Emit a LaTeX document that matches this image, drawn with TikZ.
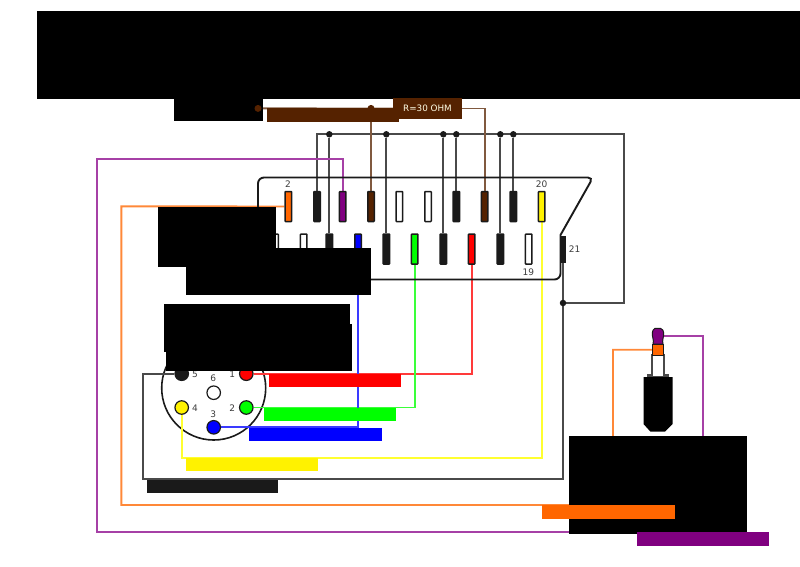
\documentclass[tikz,border=0pt]{standalone}
\usepackage{fontspec}
\setmainfont{DejaVu Sans}
\usetikzlibrary{backgrounds}
\definecolor{cbrown}{HTML}{552200}
\definecolor{corange}{HTML}{FF6600}
\definecolor{cpurple}{HTML}{800080}
\definecolor{cdark}{HTML}{1A1A1A}
\definecolor{cgreen}{HTML}{00FF00}
\definecolor{wbrown}{HTML}{80593F}
\definecolor{worange}{HTML}{FF8838}
\definecolor{wpurple}{HTML}{A640A6}
\definecolor{wdark}{HTML}{4A4A4A}
\definecolor{wred}{HTML}{FF3A3A}
\definecolor{wgreen}{HTML}{3AFF3A}
\definecolor{wblue}{HTML}{3A3AFF}
\definecolor{wyellow}{HTML}{FFFF30}
\tikzset{
  pinbox/.style={draw=cdark,line width=1.5pt,rounded corners=0.6pt,minimum width=6.5pt,minimum height=30pt,inner sep=0pt,fill=#1},
  pinbox/.default=white,
  dinpin/.style={circle,draw=cdark,line width=1.2pt,minimum size=13.5pt,inner sep=0pt,fill=#1},
  dinpin/.default=white,
  junction/.style={circle,fill=cdark,minimum size=6.5pt,inner sep=0pt},
  wire/.style={line width=1.9pt,#1},
  numlabel/.style={font=\fontsize{9}{10}\selectfont,text=cdark!85,inner sep=0pt},
  redact/.style={fill=black},
  resdot/.style={circle,fill=cbrown,minimum size=7pt,inner sep=0pt},
}
\begin{document}
\begin{tikzpicture}[x=1pt,y=-1pt]
\useasboundingbox (0,0) rectangle (800,566);
% SCART outline
\draw[cdark,line width=1.9pt] (400,177.5) [rounded corners=5pt] -- (593,177.5) [sharp corners] -- (560.5,235) [rounded corners=6pt] -- (560.5,279.5) -- (258,279.5) -- (258,177.5) -- cycle;
% top row pins
\node[pinbox=corange] (t2) at (288.3,206.5) {};
\node[pinbox=cdark] (t4) at (317,206.5) {};
\node[pinbox=cpurple] (t6) at (342.7,206.5) {};
\node[pinbox=cbrown] (t8) at (371,206.5) {};
\node[pinbox] (t10) at (399.3,206.5) {};
\node[pinbox] (t12) at (428,206.5) {};
\node[pinbox=cdark] (t14) at (456.3,206.5) {};
\node[pinbox=cbrown] (t16) at (484.7,206.5) {};
\node[pinbox=cdark] (t18) at (513.3,206.5) {};
\node[pinbox=yellow] (t20) at (541.7,206.5) {};
% bottom row pins
\node[pinbox] (b3) at (275,249) {};
\node[pinbox] (b5) at (303.7,249) {};
\node[pinbox=cdark] (b7) at (329.3,249) {};
\node[pinbox=blue] (b9) at (358,249) {};
\node[pinbox=cdark] (b11) at (386.3,249) {};
\node[pinbox=cgreen] (b13) at (414.7,249) {};
\node[pinbox=cdark] (b15) at (443.3,249) {};
\node[pinbox=red] (b17) at (471.7,249) {};
\node[pinbox=cdark] (b19) at (500.3,249) {};
\node[pinbox] (b21) at (528.7,249) {};
\node[draw=cdark,fill=cdark,line width=.8pt,minimum width=5pt,minimum height=26pt,inner sep=0pt] (p21) at (563,249.2) {};
% pin numbers
\node[numlabel] (n2) at (288,184.5) {2};
\node[numlabel] (n20) at (541.7,184.5) {20};
\node[numlabel] (n19) at (528.3,272) {19};
\node[numlabel] (n21) at (574.7,249.5) {21};
% junctions on the ground rail
\node[junction] (j1) at (329.3,134.3) {};
\node[junction] (j2) at (386.3,134.3) {};
\node[junction] (j3) at (443.3,134.3) {};
\node[junction] (j4) at (456.3,134.3) {};
\node[junction] (j5) at (500.3,134.3) {};
\node[junction] (j6) at (513.3,134.3) {};
\node[junction] (j7) at (563,303) {};
\coordinate (railR) at (624,134.3);
\coordinate (gndB) at (563,479.3);
\coordinate (gndL) at (143,479.3);
\coordinate (gndT) at (143,373.7);
% DIN socket
\coordinate (dinc) at (213.7,388);
\node[dinpin=cdark] (d5) at (181.7,373.7) {};
\node[dinpin=red] (d1) at (246.3,373.7) {};
\node[dinpin] (d6) at (213.7,392.7) {};
\node[dinpin=yellow] (d4) at (181.7,407.5) {};
\node[dinpin=cgreen] (d2) at (246.3,407.5) {};
\node[dinpin=blue] (d3) at (213.7,427.3) {};
\node[numlabel] (nd5) at (195,374) {5};
\node[numlabel] (nd1) at (232.3,374) {1};
\node[numlabel] (nd6) at (213.3,378) {6};
\node[numlabel] (nd4) at (195,408) {4};
\node[numlabel] (nd2) at (232.3,408) {2};
\node[numlabel] (nd3) at (213.3,414) {3};
% jack
\draw[wdark,line width=1.2pt,fill=white] (652,355) -- (652,375) -- (648,375) -- (648,377) -- (668,377) -- (668,375) -- (664,375) -- (664,355) -- cycle;
\fill[black] (643.5,377) -- (672.5,377) -- (672.5,424) -- (665,431.7) -- (650.5,431.7) -- (643.5,424) -- cycle;
\draw[cdark,line width=1pt,fill=cpurple] (653,344) .. controls (654,340) and (652.5,338) .. (652.3,335) .. controls (652.2,331) and (653.5,328.3) .. (655,328.3) -- (660.5,328.3) .. controls (662.5,328.3) and (663.8,331) .. (663.7,335) .. controls (663.5,338) and (662,340) .. (663,344) -- cycle;
\node[draw=cdark,fill=corange,line width=1pt,minimum width=11.5pt,minimum height=11pt,inner sep=0pt] (jring) at (658,349.7) {};
\coordinate (jtip) at (663.5,336);
\coordinate (pTR) at (703,336);
\coordinate (pBR) at (703,532.3);
\coordinate (pBL) at (97,532.3);
\coordinate (pTL) at (97,159);
\coordinate (oTL) at (121.3,206.3);
\coordinate (oBL) at (121.3,505);
\coordinate (oBR) at (613,505);
\coordinate (oTR) at (613,349.7);
\coordinate (yC) at (181.7,458);
\coordinate (yR) at (541.7,458);
% black masks
\fill[redact] (36.5,11) rectangle (800,98.7);
\fill[redact] (173.5,98) rectangle (262.5,120.5);
\fill[redact] (158.3,207) rectangle (276,267);
\fill[redact] (185.7,247.5) rectangle (371,294.5);
\fill[redact] (164,304.3) rectangle (349.7,352);
\fill[redact] (166.3,323.5) rectangle (352,371);
\fill[redact] (569,435.7) rectangle (746.7,533.7);
% resistor
\node[resdot] (rA) at (258,108.4) {};
\fill[cbrown] (267,108.3) rectangle (398.5,121.5);
\node[resdot] (rB) at (371,108.4) {};
\node[fill=cbrown,text=white!90!yellow,font=\fontsize{8.8}{10}\selectfont,minimum width=69pt,minimum height=21pt,inner sep=0pt] (res) at (427.5,108.5) {R=30 OHM};
\begin{pgfonlayer}{background}
  \draw[cdark,line width=1.6pt] (dinc) circle (52);
  % ground rail
  \draw[wire=wdark] (t4.north) |- (railR) |- (j7);
  \draw[wire=wdark] (j1) -- (b7.north);
  \draw[wire=wdark] (j2) -- (b11.north);
  \draw[wire=wdark] (j3) -- (b15.north);
  \draw[wire=wdark] (j4) -- (t14.north);
  \draw[wire=wdark] (j5) -- (b19.north);
  \draw[wire=wdark] (j6) -- (t18.north);
  \draw[wire=wdark] (d5) -- (gndT) -- (gndL) -- (gndB) -- (j7) -- (p21.south);
  % signals
  \draw[wire=wpurple] (t6.north) |- (pTL) -- (pBL) -- (pBR) -- (pTR) -- (jtip);
  \draw[wire=worange] (t2.west) -- (oTL) -- (oBL) -- (oBR) -- (oTR) -- (jring.west);
  \draw[wire=wred] (d1) -| (b17.south);
  \draw[wire=wgreen] (d2) -| (b13.south);
  \draw[wire=wblue] (d3) -| (b9.south);
  \draw[wire=wyellow] (d4) -- (yC) -- (yR) -- (t20.south);
  \draw[wire=wbrown] (res.east) -| (t16.north);
  \draw[wire=wbrown] (res.west) -- (rA);
  \draw[wire=wbrown] (rB) -- (t8.north);
\end{pgfonlayer}
% colour bars
\fill[red] (269.3,374) rectangle (401.3,387);
\fill[cgreen] (263.7,408) rectangle (395.7,421.3);
\fill[blue] (249.3,427.7) rectangle (381.7,441);
\fill[yellow] (186,458.2) rectangle (318,471);
\fill[cdark] (146.7,479.7) rectangle (278.3,493);
\fill[corange] (542.3,505) rectangle (674.5,518.5);
\fill[cpurple] (637,532) rectangle (769,545.5);
\end{tikzpicture}
\end{document}
